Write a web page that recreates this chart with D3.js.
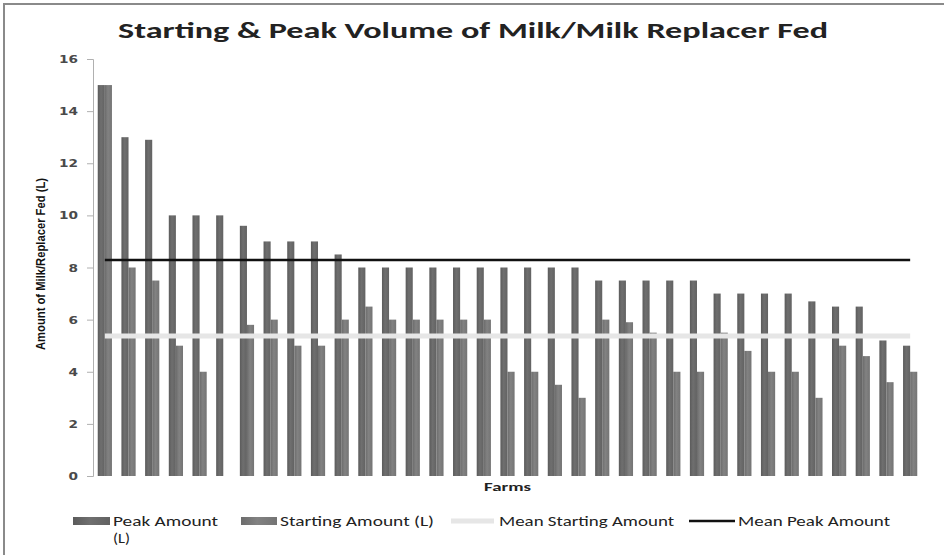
<!DOCTYPE html>
<html>
<head>
<meta charset="utf-8">
<script src="https://cdn.jsdelivr.net/npm/d3@7"></script>
<style>
  body { margin: 0; background: #fff; }
</style>
</head>
<body>
<script>
// farms sorted by peak amount
var farms = d3.range(1, 36).map(function(i){ return "Farm " + i; });

var peakAmount = [15, 13, 12.9, 10, 10, 10, 9.6, 9, 9, 9, 8.5,
    8, 8, 8, 8, 8, 8, 8, 8, 8, 8,
    7.5, 7.5, 7.5, 7.5, 7.5, 7, 7, 7, 7, 6.7, 6.5, 6.5, 5.2, 5];

var startingAmount = [15, 8, 7.5, 5, 4, null, 5.8, 6, 5, 5, 6,
    6.5, 6, 6, 6, 6, 6, 4, 4, 3.5, 3,
    6, 5.9, 5.5, 4, 4, 5.5, 4.8, 4, 4, 3, 5, 4.6, 3.6, 4];

var meanStarting = 5.37;
var meanPeak = 8.29;

var yTicks = [0, 2, 4, 6, 8, 10, 12, 14, 16];

var width = 944, height = 555;
var plotLeft = 93, plotRight = 922, plotTop = 59, plotBottom = 476;

var svg = d3.select("body")
    .append("svg")
    .attr("width", width)
    .attr("height", height)
    .style("font-family", "Calibri, 'Open Sans', sans-serif");

// gradients for the bars
var defs = svg.append("defs");
function makeGradient(id, c1, c2, c3){
    var g = defs.append("linearGradient")
        .attr("id", id)
        .attr("x1", "0").attr("x2", "1")
        .attr("y1", "0").attr("y2", "0");
    g.append("stop").attr("offset", "0").attr("stop-color", c1);
    g.append("stop").attr("offset", "0.45").attr("stop-color", c2);
    g.append("stop").attr("offset", "1").attr("stop-color", c3);
}
makeGradient("gPeak", "#5b5b5b", "#6f6f6f", "#626262");
makeGradient("gStart", "#6c6c6c", "#828282", "#747474");

// chart frame (only top and left edge show)
svg.append("rect")
    .attr("x", 4).attr("y", 4)
    .attr("width", 1000).attr("height", 600)
    .attr("fill", "none")
    .attr("stroke", "#8a8a8a")
    .attr("stroke-width", 2);

var x = d3.scaleBand()
    .domain(farms)
    .range([plotLeft, plotRight])
    .paddingInner(0.4)
    .paddingOuter(0.2);

var xSub = d3.scaleBand()
    .domain(["peak", "start"])
    .range([0, x.bandwidth()]);

var y = d3.scaleLinear()
    .domain([0, 16])
    .range([plotBottom, plotTop]);

// bars
var groups = svg.append("g").selectAll("g")
    .data(farms)
    .join("g")
    .attr("transform", function(d){ return "translate(" + x(d) + ",0)"; });

groups.append("rect")
    .attr("x", xSub("peak"))
    .attr("width", xSub.bandwidth())
    .attr("y", function(d, i){ return y(peakAmount[i]); })
    .attr("height", function(d, i){ return y(0) - y(peakAmount[i]); })
    .attr("fill", "url(#gPeak)");

groups.filter(function(d, i){ return startingAmount[i] != null; })
    .append("rect")
    .attr("x", xSub("start"))
    .attr("width", xSub.bandwidth())
    .attr("y", function(d){ return y(startingAmount[farms.indexOf(d)]); })
    .attr("height", function(d){ return y(0) - y(startingAmount[farms.indexOf(d)]); })
    .attr("fill", "url(#gStart)");

// mean lines, from first to last category center
var x0 = x(farms[0]) + x.bandwidth() / 2;
var x1 = x(farms[farms.length - 1]) + x.bandwidth() / 2;

svg.append("line")
    .attr("x1", x0).attr("x2", x1)
    .attr("y1", y(meanStarting)).attr("y2", y(meanStarting))
    .attr("stroke", "#e6e6e6")
    .attr("stroke-width", 5);

svg.append("line")
    .attr("x1", x0).attr("x2", x1)
    .attr("y1", y(meanPeak)).attr("y2", y(meanPeak))
    .attr("stroke", "#111")
    .attr("stroke-width", 2.5);

// y axis
var yAxis = svg.append("g")
    .attr("transform", "translate(" + plotLeft + ",0)")
    .call(d3.axisLeft(y).tickValues(yTicks).tickSize(6).tickPadding(9));
yAxis.select(".domain").attr("stroke", "#b0b0b0");
yAxis.selectAll(".tick line").attr("stroke", "#b0b0b0");
yAxis.selectAll("text")
    .attr("fill", "#4a4a4a")
    .style("font-family", "'DejaVu Sans', sans-serif")
    .style("font-weight", "bold")
    .style("font-size", "11px")
    .attr("textLength", function(d){ return String(d).length * 9.5; })
    .attr("lengthAdjust", "spacingAndGlyphs");

// title
svg.append("text")
    .attr("x", 473).attr("y", 38)
    .attr("text-anchor", "middle")
    .attr("textLength", 710)
    .attr("lengthAdjust", "spacingAndGlyphs")
    .style("font-size", "23px")
    .style("font-weight", "bold")
    .attr("fill", "#222")
    .text("Starting & Peak Volume of Milk/Milk Replacer Fed");

// axis titles
svg.append("text")
    .attr("transform", "translate(45,264) rotate(-90)")
    .attr("text-anchor", "middle")
    .attr("textLength", 172)
    .attr("lengthAdjust", "spacingAndGlyphs")
    .style("font-family", "'Liberation Sans Narrow', 'Liberation Sans', sans-serif")
    .style("font-size", "13px")
    .style("font-weight", "bold")
    .attr("fill", "#111")
    .text("Amount of Milk/Replacer Fed (L)");

svg.append("text")
    .attr("x", (plotLeft + plotRight) / 2).attr("y", 491)
    .attr("text-anchor", "middle")
    .attr("textLength", 47)
    .attr("lengthAdjust", "spacingAndGlyphs")
    .style("font-size", "12px")
    .style("font-weight", "bold")
    .attr("fill", "#222")
    .text("Farms");

// legend
var legendY = 521;
function legendText(tx, ty, txt, len){
    svg.append("text")
        .attr("x", tx).attr("y", ty + 5)
        .attr("textLength", len)
        .attr("lengthAdjust", "spacingAndGlyphs")
        .style("font-size", "14px")
        .attr("fill", "#222")
        .text(txt);
}

svg.append("rect")
    .attr("x", 73).attr("y", legendY - 4)
    .attr("width", 37).attr("height", 8)
    .attr("fill", "url(#gPeak)");
legendText(113, legendY, "Peak Amount", 105);
legendText(113, legendY + 17, "(L)", 17);

svg.append("rect")
    .attr("x", 241).attr("y", legendY - 4)
    .attr("width", 36).attr("height", 8)
    .attr("fill", "url(#gStart)");
legendText(280, legendY, "Starting Amount (L)", 154);

svg.append("line")
    .attr("x1", 451).attr("x2", 494)
    .attr("y1", legendY).attr("y2", legendY)
    .attr("stroke", "#e6e6e6")
    .attr("stroke-width", 5);
legendText(499, legendY, "Mean Starting Amount", 175);

svg.append("line")
    .attr("x1", 689).attr("x2", 735)
    .attr("y1", legendY).attr("y2", legendY)
    .attr("stroke", "#111")
    .attr("stroke-width", 2.5);
legendText(738, legendY, "Mean Peak Amount", 152);
</script>
</body>
</html>
